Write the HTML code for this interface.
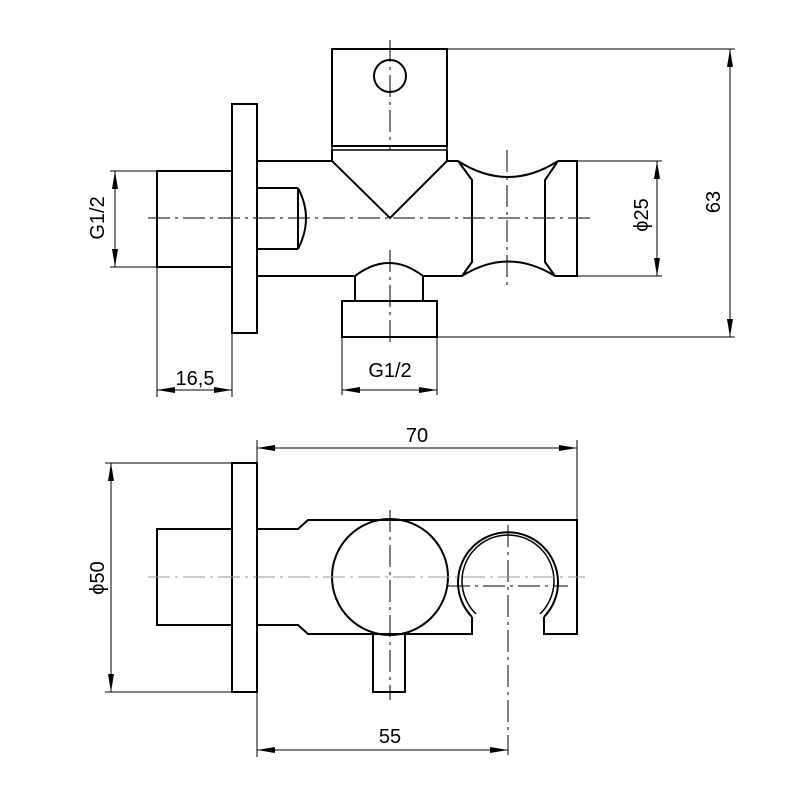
<!DOCTYPE html>
<html><head><meta charset="utf-8"><style>
html,body{margin:0;padding:0;background:#fff;}
svg{display:block}
text{font-family:"Liberation Sans","DejaVu Sans",sans-serif;font-size:20px;fill:#000}
</style></head><body>
<svg width="800" height="800" viewBox="0 0 800 800" xmlns="http://www.w3.org/2000/svg">
<defs>
<marker id="a" viewBox="0 0 18 6" refX="18" refY="3" markerWidth="18" markerHeight="6" markerUnits="userSpaceOnUse" orient="auto-start-reverse">
<path d="M18,3 L0,0 L0,6 Z" fill="#000"/>
</marker>
</defs>
<g fill="none" stroke="#000" stroke-width="2">
<!-- TOP VIEW -->
<rect x="332" y="49" width="115" height="97"/>
<circle cx="390" cy="76" r="16"/>
<rect x="332" y="146" width="115" height="4" stroke-width="1.5"/>
<path d="M332,150 L332,161 L390,218 L447,161 L447,150"/>
<rect x="232" y="104" width="25" height="229"/>
<rect x="157" y="171" width="75" height="96"/>
<path d="M257,188 L298,188 M257,249 L298,249 M298,188 L298,249 M298,188 Q314,218 298,249"/>
<path d="M257,161 L332,161 M447,161 L458,161 M257,276 L355,276 M423,276 L462,276"/>
<path d="M458,161 Q508,193 558,161 M462,276 Q508,247 555,276 L577,276 L577,161 L558,161"/>
<path d="M458,161 L472,180 L472,262 L462,276 M558,161 L545,180 L545,262 L555,276"/>
<path d="M355,276 Q389,250 423,276 M355,276 L355,301 M423,276 L423,301"/>
<rect x="342" y="301" width="95" height="36"/>
<!-- BOTTOM VIEW -->
<rect x="232" y="463" width="25" height="229"/>
<rect x="157" y="529" width="75" height="96"/>
<path d="M257,529 L298,529 L308,520 L577,520 L577,634 L544,634 L544,617 M472,617 L472,634 L308,634 L298,625 L257,625"/>
<circle cx="390" cy="577" r="58"/>
<path d="M472,617 A50,50 0 1 1 544,617"/>
<path d="M476,614 A46,46 0 1 1 540,614" stroke-width="1.5"/>
<path d="M373,634 L373,692 L405,692 L405,634"/>
</g>
<g fill="none" stroke="#000" stroke-width="1" stroke-dasharray="22,5,3,5">
<path d="M148,218 L590,218"/>
<path d="M390,40 L390,150 M390,250 L390,345"/>
<path d="M507,150 L507,290"/>
<path d="M390,510 L390,700"/>
<path d="M508,525 L508,755"/>
<path d="M448,586 L568,586"/>
</g>
<path d="M148,577 L585,577" stroke="#999" stroke-width="1" stroke-dasharray="22,5,3,5"/>
<g fill="none" stroke="#000" stroke-width="1">
<path d="M447,49 L735,49 M437,337 L735,337"/>
<path d="M730,49 L730,337" marker-start="url(#a)" marker-end="url(#a)"/>
<path d="M577,161 L662,161 M577,276 L662,276"/>
<path d="M657,161 L657,276" marker-start="url(#a)" marker-end="url(#a)"/>
<path d="M110,171 L157,171 M110,267 L157,267"/>
<path d="M115,171 L115,267" marker-start="url(#a)" marker-end="url(#a)"/>
<path d="M157,267 L157,397 M232,333 L232,397"/>
<path d="M157,390 L232,390" marker-start="url(#a)" marker-end="url(#a)"/>
<path d="M342,337 L342,395 M437,337 L437,395"/>
<path d="M342,390 L437,390" marker-start="url(#a)" marker-end="url(#a)"/>
<path d="M257,440 L257,757 M577,440 L577,520"/>
<path d="M257,448 L577,448" marker-start="url(#a)" marker-end="url(#a)"/>
<path d="M105,463 L232,463 M105,692 L232,692"/>
<path d="M111,463 L111,692" marker-start="url(#a)" marker-end="url(#a)"/>
<path d="M257,750 L508,750" marker-start="url(#a)" marker-end="url(#a)"/>
</g>
<text x="195" y="385" text-anchor="middle">16,5</text>
<text x="390" y="377" text-anchor="middle">G1/2</text>
<text x="417" y="442" text-anchor="middle">70</text>
<text x="390" y="743" text-anchor="middle">55</text>
<text transform="translate(104,218) rotate(-90)" text-anchor="middle">G1/2</text>
<text transform="translate(648,215) rotate(-90)" text-anchor="middle">ϕ25</text>
<text transform="translate(720,202) rotate(-90)" text-anchor="middle">63</text>
<text transform="translate(104,578) rotate(-90)" text-anchor="middle">ϕ50</text>
</svg>
</body></html>
